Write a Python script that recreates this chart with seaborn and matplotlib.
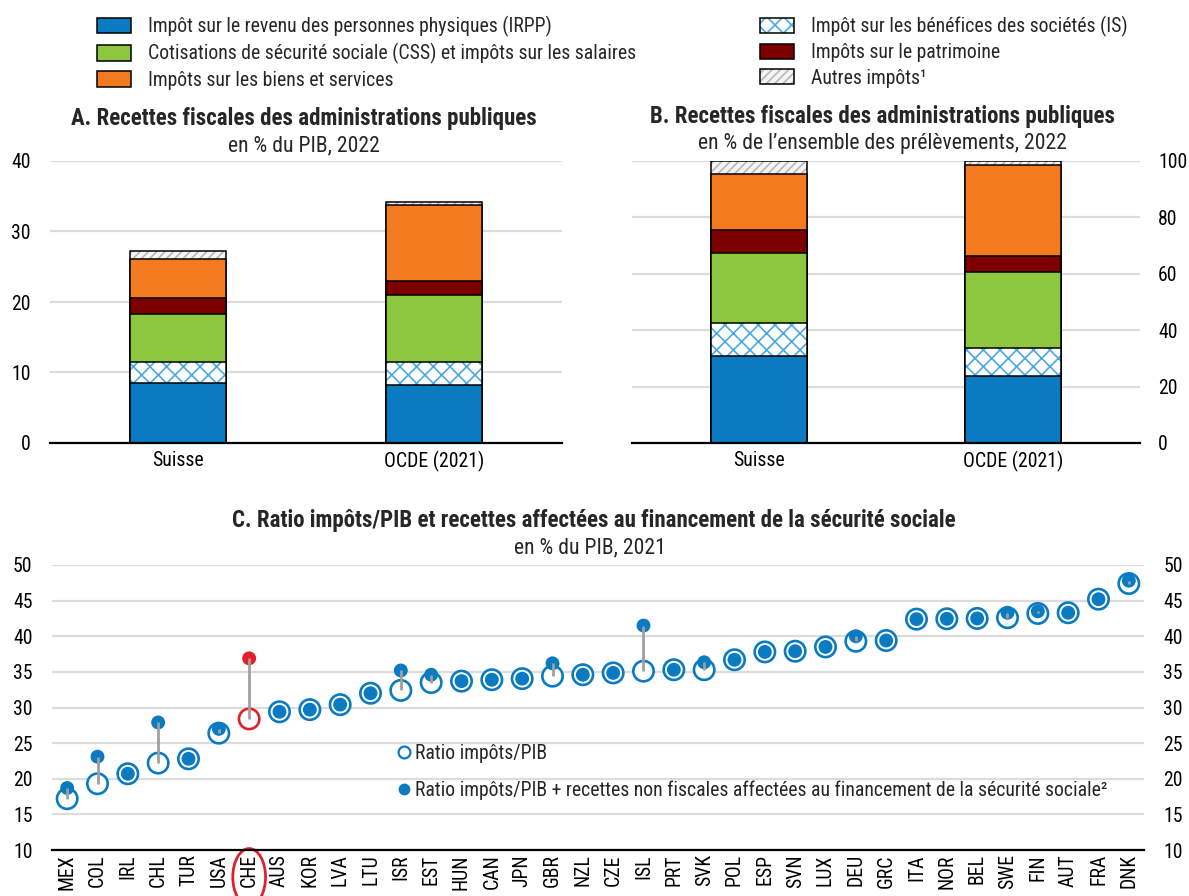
import numpy as np
import pandas as pd
import matplotlib
matplotlib.use('Agg')
import matplotlib.pyplot as plt
import matplotlib.transforms as mtransforms
from matplotlib.patches import Patch, Ellipse
from matplotlib.lines import Line2D
from matplotlib import font_manager
import seaborn as sns

# ---------------- Data ----------------
bar_categories = ['Suisse', 'OCDE (2021)']
component_labels = [
    'Impôt sur le revenu des personnes physiques (IRPP)',
    'Impôt sur les bénéfices des sociétés (IS)',
    'Cotisations de sécurité sociale (CSS) et impôts sur les salaires',
    'Impôts sur le patrimoine',
    'Impôts sur les biens et services',
    'Autres impôts¹',
]
# Panel A: % of GDP, 2022
irpp_gdp = [8.5, 8.2]
is_gdp = [3.0, 3.3]
css_gdp = [6.8, 9.5]
patrimoine_gdp = [2.3, 2.0]
biens_gdp = [5.5, 10.7]
autres_gdp = [1.1, 0.5]
# Panel B: % of total tax revenue, 2022
irpp_share = [31.0, 23.6]
is_share = [11.7, 10.2]
css_share = [24.5, 26.9]
patrimoine_share = [8.5, 5.7]
biens_share = [19.8, 32.1]
autres_share = [4.5, 1.5]

# Panel C
countries = ['MEX', 'COL', 'IRL', 'CHL', 'TUR', 'USA', 'CHE', 'AUS', 'KOR', 'LVA', 'LTU',
             'ISR', 'EST', 'HUN', 'CAN', 'JPN', 'GBR', 'NZL', 'CZE', 'ISL', 'PRT', 'SVK',
             'POL', 'ESP', 'SVN', 'LUX', 'DEU', 'GRC', 'ITA', 'NOR', 'BEL', 'SWE', 'FIN',
             'AUT', 'FRA', 'DNK']
tax_ratio = [17.2, 19.3, 20.7, 22.2, 22.8, 26.4, 28.4, 29.4, 29.7, 30.4, 32.0,
             32.4, 33.5, 33.7, 33.9, 34.05, 34.4, 34.6, 34.85, 35.1, 35.3, 35.3,
             36.7, 37.8, 37.9, 38.5, 39.3, 39.4, 42.4, 42.45, 42.5, 42.6, 43.2,
             43.3, 45.2, 47.4]
tax_plus_ssc = [18.7, 23.1, 20.7, 27.9, 22.8, 27.0, 36.9, 29.4, 29.7, 30.4, 32.0,
                35.2, 34.6, 33.7, 33.9, 34.05, 36.2, 34.6, 34.85, 41.5, 35.3, 36.35,
                36.7, 37.8, 37.9, 38.5, 40.0, 39.4, 42.4, 42.45, 42.5, 43.3, 43.5,
                43.3, 45.2, 47.8]
highlight = 'CHE'

# ---------------- Style ----------------
sns.set_theme(style='white')

# look for a condensed / narrow sans font (the reference uses a narrow face)
narrow_stretches = ('condensed', 'semi-condensed', 'extra-condensed')
found = None
entries = font_manager.fontManager.ttflist
pref = ['Liberation Sans Narrow', 'Arial Narrow', 'Roboto Condensed', 'Open Sans Condensed',
        'Noto Sans', 'Open Sans', 'Roboto', 'DejaVu Sans']
for p in pref:
    for f in entries:
        if f.name == p and (('Narrow' in f.name) or ('Condensed' in f.name) or
                            (str(f.stretch) in narrow_stretches) or
                            (isinstance(f.stretch, int) and f.stretch < 500)):
            found = (f.name, f.stretch)
            break
    if found:
        break
if found is None:
    for f in entries:
        if ('Narrow' in f.name or 'Condensed' in f.name or str(f.stretch) in narrow_stretches):
            found = (f.name, f.stretch)
            break

if found is not None:
    plt.rcParams['font.family'] = [found[0], 'DejaVu Sans']
    if found[1] in narrow_stretches or isinstance(found[1], int):
        plt.rcParams['font.stretch'] = found[1]
    FS = 14.2
else:
    plt.rcParams['font.family'] = ['Liberation Sans', 'DejaVu Sans']
    FS = 12
FS_TITLE = FS * 1.16
FS_SUB = FS * 1.1
plt.rcParams['hatch.linewidth'] = 1.2
plt.rcParams['axes.unicode_minus'] = False

BLUE = '#0a7bc1'
GREEN = '#8dc63f'
ORANGE = '#f47a20'
DARKRED = '#7d0000'
HATCH_BLUE = '#4aa8e3'
HATCH_GREY = '#b8b8b8'
RED = '#e3202a'
GRID = '#dcdcdc'
BAR_W = 0.375

W, H = 1189, 896
fig = plt.figure(figsize=(W / 100, H / 100), dpi=100)


def ax_px(left, top, right, bottom):
    return fig.add_axes([left / W, 1 - bottom / H, (right - left) / W, (bottom - top) / H])


def ftext(x, y, s, size, **kw):
    fig.text(x / W, 1 - y / H, s, ha='center', va='center', fontsize=size, **kw)


components_style = [
    (BLUE, None, None),
    ('white', 'xx', HATCH_BLUE),
    (GREEN, None, None),
    (DARKRED, None, None),
    (ORANGE, None, None),
    ('#f4f4f4', '////', HATCH_GREY),
]


def stacked(ax, series):
    cums = np.cumsum(np.array(series), axis=0)
    for i in reversed(range(len(series))):
        color, hatch, hcolor = components_style[i]
        df = pd.DataFrame({'cat': bar_categories, 'val': cums[i]})
        if hatch:
            sns.barplot(data=df, x='cat', y='val', ax=ax, color=color, saturation=1,
                        width=BAR_W, edgecolor=hcolor, linewidth=0, hatch=hatch, errorbar=None)
        else:
            sns.barplot(data=df, x='cat', y='val', ax=ax, color=color, saturation=1,
                        width=BAR_W, linewidth=0, errorbar=None)
        sns.barplot(data=df, x='cat', y='val', ax=ax, fill=False, color='black',
                    width=BAR_W, linewidth=1.1, errorbar=None)
    ax.set_xlabel('')
    ax.set_ylabel('')


def style_axes(ax, ymax, step, side):
    ax.set_xlim(-0.5, len(bar_categories) - 0.5)
    ax.set_ylim(0, ymax)
    ax.set_yticks(np.arange(0, ymax + 0.1, step))
    ax.yaxis.grid(True, color=GRID, lw=1.6)
    ax.set_axisbelow(True)
    for s in ['top', 'left', 'right']:
        ax.spines[s].set_visible(False)
    ax.spines['bottom'].set_color('black')
    ax.spines['bottom'].set_linewidth(1.6)
    ax.tick_params(axis='both', length=0, labelsize=FS, colors='black')
    ax.tick_params(axis='x', pad=6)
    if side == 'right':
        ax.yaxis.tick_right()
        ax.tick_params(axis='y', pad=13)
    else:
        ax.tick_params(axis='y', pad=14)
    ax.set_facecolor('white')


# Panel A
axA = ax_px(50, 161, 562, 443)
stacked(axA, [irpp_gdp, is_gdp, css_gdp, patrimoine_gdp, biens_gdp, autres_gdp])
style_axes(axA, 40, 10, 'left')
ftext(304, 118, 'A. Recettes fiscales des administrations publiques', FS_TITLE, fontweight='bold')
ftext(304, 146, 'en % du PIB, 2022', FS_SUB)

# Panel B
axB = ax_px(632, 161, 1140, 443)
stacked(axB, [irpp_share, is_share, css_share, patrimoine_share, biens_share, autres_share])
style_axes(axB, 100, 20, 'right')
ftext(882, 116, 'B. Recettes fiscales des administrations publiques', FS_TITLE, fontweight='bold')
ftext(882, 144, 'en % de l\u2019ensemble des prélèvements, 2022', FS_SUB)

# Top legend
handles = []
for color, hatch, hcolor in components_style:
    if hatch:
        handles.append((Patch(facecolor=color, edgecolor=hcolor, hatch=hatch, lw=0),
                        Patch(facecolor='none', edgecolor='black', lw=1.1)))
    else:
        handles.append(Patch(facecolor=color, edgecolor='black', lw=1.1))
em = FS * 100 / 72
leg_kw = dict(frameon=False, fontsize=FS, loc='upper left', borderpad=0, borderaxespad=0,
              handlelength=34 / em, handleheight=16 / em,
              handletextpad=17 / em, labelspacing=0.32)
order1 = [0, 2, 4]
order2 = [1, 3, 5]
fig.legend([handles[i] for i in order1], [component_labels[i] for i in order1],
           bbox_to_anchor=(97 / W, 1 - 16 / H), **leg_kw)
fig.legend([handles[i] for i in order2], [component_labels[i] for i in order2],
           bbox_to_anchor=(760 / W, 1 - 16 / H), **leg_kw)

# Panel C
axC = ax_px(52, 565, 1144, 850)
edge_cols = [RED if c == highlight else BLUE for c in countries]
sns.scatterplot(x=countries, y=tax_ratio, ax=axC, s=215, marker='o', zorder=3)
coll_open = axC.collections[-1]
coll_open.set_facecolor('white')
coll_open.set_edgecolor(edge_cols)
coll_open.set_linewidth(1.9)
sns.scatterplot(x=countries, y=tax_plus_ssc, ax=axC, s=100, marker='o', linewidth=0, zorder=4)
coll_fill = axC.collections[-1]
coll_fill.set_facecolor(edge_cols)
axC.vlines(countries, tax_ratio, tax_plus_ssc, color='#a0a0a0', lw=2, zorder=5)
axC.set_xlim(-0.5, len(countries) - 0.5)
axC.set_ylim(10, 50)
axC.set_yticks(np.arange(10, 51, 5))
axC.yaxis.grid(True, color=GRID, lw=1.6)
axC.set_axisbelow(True)
for s in ['top', 'left', 'right']:
    axC.spines[s].set_visible(False)
axC.spines['bottom'].set_color('black')
axC.spines['bottom'].set_linewidth(1.6)
axC.tick_params(axis='both', length=0, labelsize=FS, colors='black')
axC.tick_params(axis='y', pad=14, labelleft=True, labelright=True)
axC.tick_params(axis='x', pad=3, rotation=90)
axC.set_xlabel('')
axC.set_ylabel('')
axC.set_facecolor('white')

# highlight ellipse around CHE label
trans = mtransforms.blended_transform_factory(axC.transData, axC.transAxes)
axC.add_patch(Ellipse((countries.index(highlight), -0.095), 1.08, 0.2, transform=trans,
                      fill=False, edgecolor=RED, lw=2, clip_on=False))

ftext(594, 521, 'C. Ratio impôts/PIB et recettes affectées au financement de la sécurité sociale',
      FS_TITLE, fontweight='bold')
ftext(590, 548, 'en % du PIB, 2021', FS_SUB)

legC_handles = [
    Line2D([], [], ls='', marker='o', ms=8.5, mfc='white', mec=BLUE, mew=1.6),
    Line2D([], [], ls='', marker='o', ms=8.5, mfc=BLUE, mec=BLUE, mew=0),
]
legC_labels = ['Ratio impôts/PIB',
               'Ratio impôts/PIB + recettes non fiscales affectées au financement de la sécurité sociale²']
axC.legend(legC_handles, legC_labels, frameon=False, fontsize=FS, loc='upper left',
           bbox_to_anchor=((398 - 52) / 1092, (850 - 744) / 285), borderpad=0, borderaxespad=0,
           handlelength=0.6, handletextpad=0.25, labelspacing=0.9)

fig.savefig('out.png', dpi=100, facecolor='white')
